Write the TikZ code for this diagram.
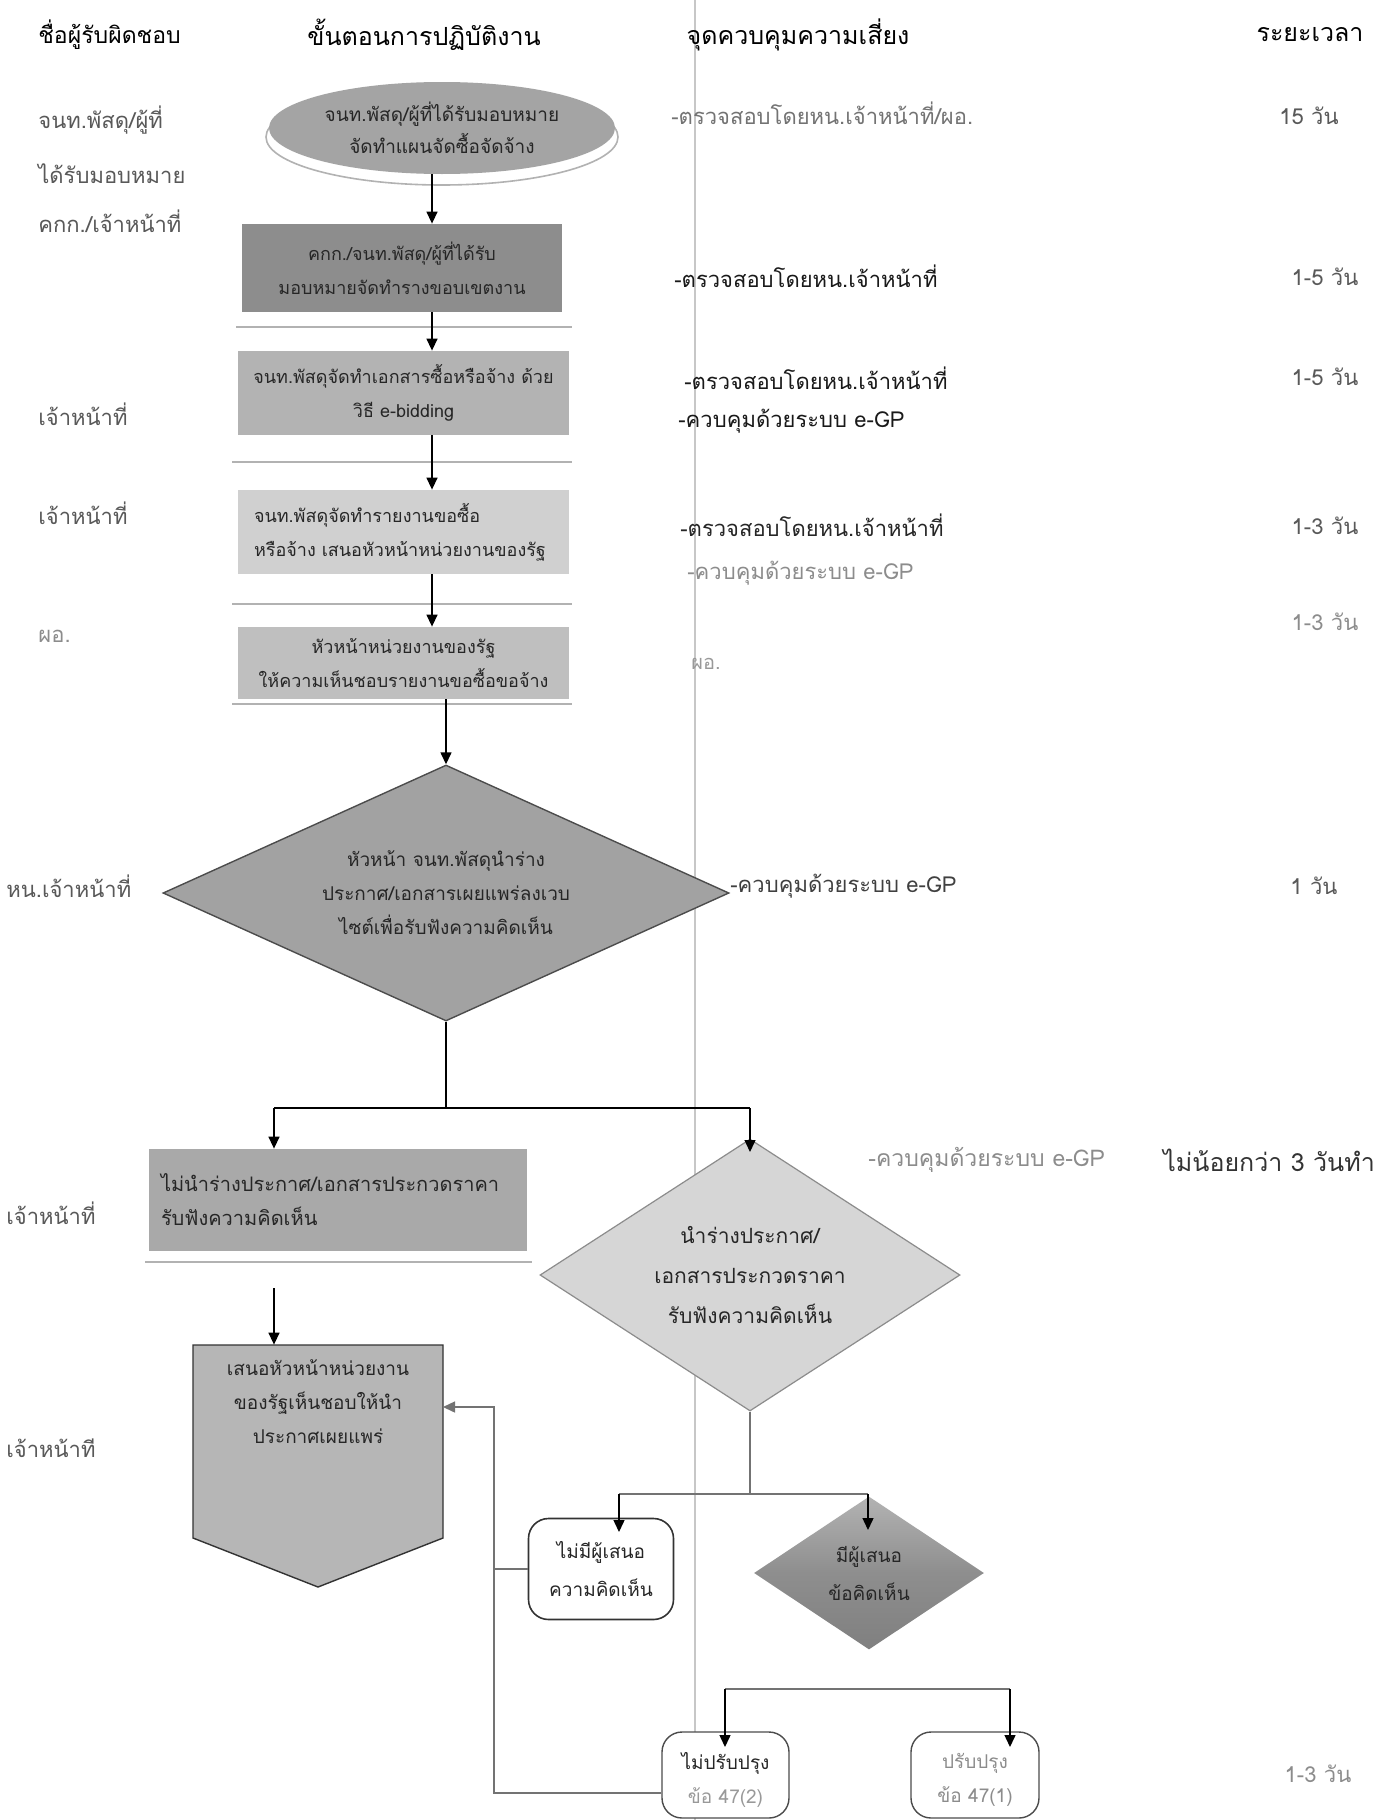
\documentclass[tikz,border=0pt]{standalone}
\usepackage{fontspec}
\setmainfont[Script=Thai]{Loma}
\usetikzlibrary{shapes.geometric,arrows.meta,calc}
\definecolor{cell}{HTML}{A4A4A4}
\definecolor{cra}{HTML}{8D8D8D}
\definecolor{crb}{HTML}{B3B3B3}
\definecolor{crc}{HTML}{D0D0D0}
\definecolor{crd}{HTML}{BFBFBF}
\definecolor{cda}{HTML}{A2A2A2}
\definecolor{cre}{HTML}{A9A9A9}
\definecolor{cdb}{HTML}{D6D6D6}
\definecolor{cpent}{HTML}{B6B6B6}
\definecolor{cdd}{HTML}{8E8E8E}
\begin{document}
\begin{tikzpicture}[x=0.5pt,y=-0.5pt,
  arr/.style={-{Triangle[length=6pt,width=5.5pt]}, line width=0.7pt, draw=black},
  conn/.style={line width=0.7pt, draw=black},
  gconn/.style={line width=0.7pt, draw=black!55},
  shline/.style={line width=1.3pt, draw=black!30},
  box/.style={rectangle, inner sep=0pt, draw=none, align=center, text=black!85, font=\fontsize{9}{17}\selectfont},
  txt/.style={inner sep=0pt, align=center, text=black!85, font=\fontsize{9.5}{17}\selectfont},
  lab/.style={anchor=west, inner sep=0pt, font=\fontsize{11}{13}\selectfont, text=black!65},
  ctl/.style={anchor=west, inner sep=0pt, font=\fontsize{11}{13}\selectfont, text=black!80},
  tim/.style={anchor=center, inner sep=0pt, font=\fontsize{11}{13}\selectfont, text=black!65},
  hdr/.style={anchor=center, inner sep=0pt, font=\fontsize{12.5}{14}\selectfont, text=black},
]
\useasboundingbox (0,0) rectangle (1379,1820);
\fill[white] (0,0) rectangle (1379,1820);
\draw[black!22, line width=0.8pt] (695,0) -- (695,1820);

% headers
\node[hdr, anchor=west, font=\fontsize{11.5}{14}\selectfont] (h1) at (38,35) {ชื่อผู้รับผิดชอบ};
\node[hdr] (h2) at (424,35) {ขั้นตอนการปฏิบัติงาน};
\node[hdr] (h3) at (798,35) {จุดควบคุมความเสี่ยง};
\node[hdr] (h4) at (1310,35) {ระยะเวลา};

% left labels
\node[lab] (l1) at (38,120) {จนท.พัสดุ/ผู้ที่};
\node[lab] (l2) at (38,174) {ได้รับมอบหมาย};
\node[lab] (l3) at (38,221) {คกก./เจ้าหน้าที่};
\node[lab] (l4) at (38,414) {เจ้าหน้าที่};
\node[lab] (l5) at (38,513) {เจ้าหน้าที่};
\node[lab, text=black!45] (l6) at (38,636) {ผอ.};
\node[lab] (l7) at (6,886) {หน.เจ้าหน้าที่};
\node[lab] (l8) at (6,1213) {เจ้าหน้าที่};
\node[lab] (l9) at (6,1448) {เจ้าหน้าที};

% control column
\node[ctl, text=black!55] (t1) at (671,113) {-ตรวจสอบโดยหน.เจ้าหน้าที่/ผอ.};
\node[ctl, text=black!90] (t2) at (674,276) {-ตรวจสอบโดยหน.เจ้าหน้าที่};
\node[ctl, text=black!90] (t3) at (684,378) {-ตรวจสอบโดยหน.เจ้าหน้าที่};
\node[ctl, text=black!90] (t4) at (678,421) {-ควบคุมด้วยระบบ e-GP};
\node[ctl, text=black!85] (t5) at (680,525) {-ตรวจสอบโดยหน.เจ้าหน้าที่};
\node[ctl, text=black!45] (t6) at (687,573) {-ควบคุมด้วยระบบ e-GP};
\node[ctl, text=black!40, font=\fontsize{10}{12}\selectfont] (t7) at (691,664) {ผอ.};
\node[ctl, text=black!75] (t8) at (730,886) {-ควบคุมด้วยระบบ e-GP};
\node[ctl, text=black!45, font=\fontsize{11.5}{13}\selectfont] (t9) at (868,1160) {-ควบคุมด้วยระบบ e-GP};

% time column
\node[tim] (u1) at (1309,116) {15 วัน};
\node[tim] (u2) at (1325,277) {1-5 วัน};
\node[tim] (u3) at (1325,377) {1-5 วัน};
\node[tim] (u4) at (1325,526) {1-3 วัน};
\node[tim, text=black!45] (u5) at (1325,622) {1-3 วัน};
\node[tim] (u6) at (1314,886) {1 วัน};
\node[tim, anchor=west, text=black!80, font=\fontsize{12.5}{14}\selectfont] (u7) at (1163,1160) {ไม่น้อยกว่า 3 วันทำ};
\node[tim, text=black!45] (u8) at (1318,1774) {1-3 วัน};

% ellipse start
\node[ellipse, draw=black!30, fill=white, line width=0.8pt, minimum width=176pt, minimum height=48pt] (ellrim) at (442,137) {};
\node[ellipse, fill=cell, inner sep=0pt, minimum width=173pt, minimum height=46pt, align=center, text=black!85, font=\fontsize{9.5}{16}\selectfont] (ell) at (442,128) {จนท.พัสดุ/ผู้ที่ได้รับมอบหมาย\\จัดทำแผนจัดซื้อจัดจ้าง};

% process rectangles
\coordinate (ax) at (432,0);
\node[box, fill=cra, minimum width=160pt, minimum height=44pt] (r1) at (402,268) {คกก./จนท.พัสดุ/ผู้ที่ได้รับ\\มอบหมายจัดทำรางขอบเขตงาน};
\draw[shline] (236,327) -- (572,327);
\node[box, fill=crb, minimum width=165.5pt, minimum height=42pt] (r2) at (403.5,393) {จนท.พัสดุจัดทำเอกสารซื้อหรือจ้าง ด้วย\\วิธี e-bidding};
\draw[shline] (232,462) -- (572,462);
\node[box, fill=crc, minimum width=165.5pt, minimum height=42pt, inner xsep=8pt, text width=149.5pt, align=left] (r3) at (403.5,532) {จนท.พัสดุจัดทำรายงานขอซื้อ\\หรือจ้าง เสนอหัวหน้าหน่วยงานของรัฐ};
\draw[shline] (232,604) -- (572,604);
\node[box, fill=crd, minimum width=165.5pt, minimum height=36pt] (r4) at (403.5,663) {หัวหน้าหน่วยงานของรัฐ\\ให้ความเห็นชอบรายงานขอซื้อขอจ้าง};
\draw[shline] (232,704) -- (572,704);

% main decision
\node[diamond, aspect=2.3, fill=cda, draw=black!70, line width=0.7pt, inner sep=0pt, minimum width=283pt, minimum height=128pt, align=center, text=black!85, font=\fontsize{9.5}{17}\selectfont] (d1) at (446,893) {หัวหน้า จนท.พัสดุนำร่าง\\ประกาศ/เอกสารเผยแพร่ลงเวบ\\ไซต์เพื่อรับฟังความคิดเห็น};

\draw[arr] (ell.south -| ax) -- (r1.north -| ax);
\draw[arr] (r1.south -| ax) -- (r2.north -| ax);
\draw[arr] (r2.south -| ax) -- (r3.north -| ax);
\draw[arr] (r3.south -| ax) -- (r4.north -| ax);
\draw[arr] (d1.north |- r4.south) -- (d1.north);

% branch 1
\coordinate (b1L) at (274,1108);
\coordinate (b1R) at (750,1108);
\draw[conn] (d1.south) -- (d1.south |- b1L);
\draw[conn] (b1L) -- (b1R);

\node[box, fill=cre, minimum width=189pt, minimum height=51pt, inner xsep=6pt, text width=177pt, align=left, font=\fontsize{10}{17}\selectfont] (r5) at (338,1200) {ไม่นำร่างประกาศ/เอกสารประกวดราคา\\รับฟังความคิดเห็น};
\draw[shline] (145,1262) -- (532,1262);
\draw[arr] (b1L) -- (r5.north -| b1L);

\node[diamond, aspect=1.54, fill=cdb, draw=black!45, line width=0.6pt, inner sep=0pt, minimum width=210pt, minimum height=136pt] (d2) at (750,1275) {};
\node[txt, font=\fontsize{10.5}{20}\selectfont] (d2t) at (750,1275) {นำร่างประกาศ/\\เอกสารประกวดราคา\\รับฟังความคิดเห็น};
\coordinate (d2in) at (750,1152);
\draw[arr] (b1R) -- (d2in);

% offpage connector
\filldraw[fill=cpent, draw=black!80, line width=0.7pt] (193,1345) -- (443,1345) -- (443,1538) -- (318,1587) -- (193,1538) -- cycle;
\node[inner sep=0pt, minimum width=125pt, minimum height=96.5pt] (pent) at (318,1441.5) {};
\node[txt] (pentt) at (318,1402) {เสนอหัวหน้าหน่วยงาน\\ของรัฐเห็นชอบให้นำ\\ประกาศเผยแพร่};
\coordinate (sa) at (274,1288);
\draw[arr] (sa) -- (sa |- pent.north);

% comments branch
\coordinate (b2L) at (619,1494);
\coordinate (b2R) at (868,1494);
\draw[gconn] (d2.south) -- (d2.south |- b2L);
\draw[gconn] (b2L) -- (b2R);

\node[rectangle, rounded corners=10pt, draw=black!80, line width=0.8pt, fill=white, inner sep=0pt, minimum width=72.5pt, minimum height=50.5pt, align=center, text=black!85, font=\fontsize{9.5}{19}\selectfont] (bx1) at (601,1569) {ไม่มีผู้เสนอ\\ความคิดเห็น};
\node[diamond, aspect=1.5, top color=black!30, bottom color=black!50, middle color=cdd, inner sep=0pt, minimum width=115pt, minimum height=76.5pt, align=center, text=black!85, font=\fontsize{9.5}{19}\selectfont] (dd) at (869,1573) {มีผู้เสนอ\\ข้อคิดเห็น};
\coordinate (ddin) at (868,1530);
\coordinate (bx1in) at (619,1532);
\draw[arr] (b2L) -- (bx1in);
\draw[arr] (b2R) -- (ddin);

\coordinate (b3L) at (725,1689);
\coordinate (b3R) at (1010,1689);
\draw[gconn] (b3L) -- (b3R);

\node[rectangle, rounded corners=10pt, draw=black!70, line width=0.7pt, fill=white, inner sep=0pt, minimum width=63.5pt, minimum height=43pt] (bx2) at (725.5,1775) {};
\node[txt] (bx2t) at (725.5,1780) {ไม่ปรับปรุง\\\textcolor{black!40}{ข้อ 47(2)}};
\node[rectangle, rounded corners=10pt, draw=black!70, line width=0.7pt, fill=white, inner sep=0pt, minimum width=64pt, minimum height=43pt] (bx3) at (975,1775) {};
\node[txt, text=black!45] (bx3t) at (975,1780) {ปรับปรุง\\ข้อ 47(1)};
\coordinate (bx2in) at (725,1747);
\coordinate (bx3in) at (1010,1747);
\draw[arr] (b3L) -- (bx2in);
\draw[arr] (b3R) -- (bx3in);

% return line to offpage connector
\coordinate (lb) at (494,1793);
\coordinate (pe) at (443,1407);
\draw[gconn] (bx1.west) -- (bx1.west -| lb);
\draw[gconn, -{Triangle[length=6pt,width=5.5pt]}] (bx2.west |- lb) -- (lb) |- (pe);
\end{tikzpicture}
\end{document}
